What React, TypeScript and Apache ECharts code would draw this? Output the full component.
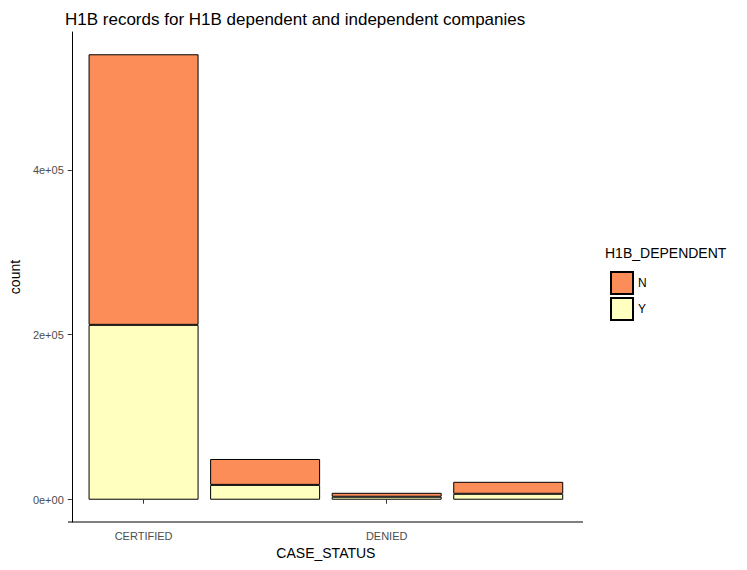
import React, { useEffect, useRef } from 'react';
import * as echarts from 'echarts';

const categories = ['CERTIFIED', 'CERTIFIED-WITHDRAWN', 'DENIED', 'WITHDRAWN'];
const valuesY = [212000, 18000, 3600, 7200];
const valuesN = [328000, 31400, 4800, 14500];
const yTicks = [0, 200000, 400000];
const tickLabels = ['0e+00', '2e+05', '4e+05'];

const App: React.FC = () => {
  const chartRef = useRef<HTMLDivElement>(null);

  useEffect(() => {
    if (!chartRef.current) return;
    const chart = echarts.init(chartRef.current, null, { renderer: 'svg' });
    const font = 'Arial, "Liberation Sans", sans-serif';
    chart.setOption({
      animation: false,
      textStyle: { fontFamily: font },
      title: {
        text: 'H1B records for H1B dependent and independent companies',
        left: 60,
        top: 6,
        textStyle: { fontSize: 17, fontWeight: 'normal', color: '#000', fontFamily: font },
      },
      grid: { left: 79, right: 178, top: 32, bottom: 48 },
      legend: {
        orient: 'vertical',
        left: 605,
        top: 266,
        itemWidth: 22,
        itemHeight: 22,
        itemGap: 2,
        icon: 'rect',
        data: ['N', 'Y'],
        textStyle: { fontSize: 12, color: '#000' },
      },
      graphic: [
        { type: 'text', left: 605, top: 246, style: { text: 'H1B_DEPENDENT', fontSize: 14, fill: '#000', font: `14px ${font}` } },
        { type: 'line', shape: { x1: 68, y1: 522, x2: 583, y2: 522 }, style: { stroke: '#000', lineWidth: 1 } },
      ],
      xAxis: {
        type: 'category',
        data: categories,
        name: 'CASE_STATUS',
        nameLocation: 'middle',
        nameGap: 24,
        nameTextStyle: { fontSize: 14, color: '#000' },
        axisLine: { show: false },
        axisTick: { show: true, alignWithLabel: true, lineStyle: { color: '#333' }, length: 4 },
        axisLabel: { color: '#4d4d4d', fontSize: 11, margin: 8 },
      },
      yAxis: {
        type: 'value',
        min: -27000,
        max: 567000,
        offset: 11,
        name: 'count',
        nameLocation: 'middle',
        nameGap: 48,
        nameTextStyle: { fontSize: 14, color: '#000' },
        axisLine: { show: true, lineStyle: { color: '#000' } },
        axisTick: { show: true, length: 4, customValues: yTicks, lineStyle: { color: '#333' } },
        axisLabel: {
          color: '#4d4d4d',
          fontSize: 11,
          customValues: yTicks,
          formatter: (v: number) => tickLabels[yTicks.indexOf(v)] ?? '',
        },
        splitLine: { show: false },
      },
      series: [
        {
          name: 'Y',
          type: 'bar',
          stack: 'a',
          barWidth: 110,
          data: valuesY,
          itemStyle: { color: '#FFFFBF', borderColor: '#000', borderWidth: 1 },
        },
        {
          name: 'N',
          type: 'bar',
          stack: 'a',
          barWidth: 110,
          data: valuesN,
          itemStyle: { color: '#FC8D59', borderColor: '#000', borderWidth: 1 },
        },
      ],
    });
    return () => chart.dispose();
  }, []);

  return <div ref={chartRef} style={{ width: 747, height: 570, position: 'absolute', left: 0, top: 0 }} />;
};

export default App;
